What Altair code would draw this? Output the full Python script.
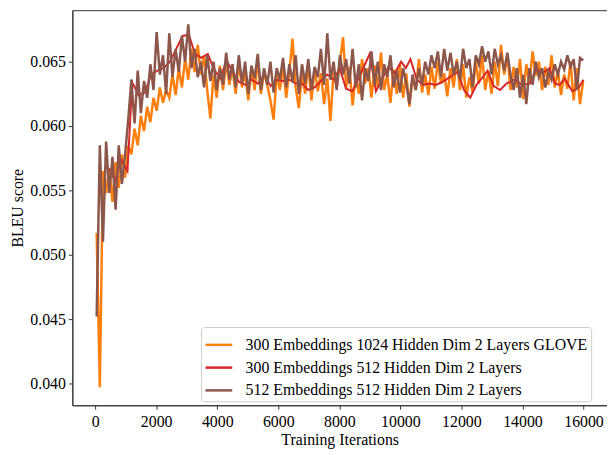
import altair as alt
import pandas as pd

SERIES = [
    "300 Embeddings 1024 Hidden Dim 2 Layers GLOVE",
    "300 Embeddings 512 Hidden Dim 2 Layers",
    "512 Embeddings 512 Hidden Dim 2 Layers",
]
COLORS = ["#ff7f0e", "#d62728", "#8c564b"]
WIDTHS = [2.5, 2.0, 2.5]

# dense evaluation grid for the orange and brown runs (50 .. ~16000)
glove_bleu = [
    .0517, .0397, .0565, .0548, .0567, .0541, .0572, .0552, .0578, .0560,
    .0585, .0578, .0598, .0585, .0608, .0596, .0615, .0603, .0622, .0612,
    .0630, .0618, .0628, .0622, .0640, .0624, .0645, .0630, .0652, .0636,
    .0660, .0642, .0663, .0640, .0655, .0628, .0606, .0640, .0622, .0647,
    .0628, .0650, .0632, .0645, .0625, .0650, .0630, .0642, .0620, .0645,
    .0628, .0651, .0625, .0642, .0632, .0620, .0605, .0640, .0628, .0646,
    .0622, .0642, .0668, .0630, .0614, .0641, .0625, .0648, .0620, .0645,
    .0627, .0641, .0617, .0637, .0604, .0642, .0630, .0650, .0669, .0630,
    .0646, .0616, .0639, .0625, .0652, .0633, .0645, .0622, .0647, .0630,
    .0657, .0628, .0640, .0618, .0644, .0625, .0648, .0622, .0641, .0615,
    .0638, .0628, .0652, .0626, .0640, .0624, .0646, .0629, .0650, .0633,
    .0641, .0623, .0645, .0630, .0652, .0628, .0648, .0622, .0638, .0626,
    .0650, .0633, .0655, .0628, .0643, .0625, .0650, .0631, .0663, .0640,
    .0655, .0628, .0646, .0630, .0652, .0621, .0648, .0633, .0658, .0639,
    .0650, .0628, .0646, .0632, .0655, .0630, .0643, .0624, .0640, .0629,
    .0650, .0620, .0645, .0617, .0635,
]
emb512_bleu = [
    .0452, .0585, .0510, .0588, .0548, .0576, .0535, .0585, .0555, .0578,
    .0605, .0636, .0602, .0643, .0610, .0635, .0622, .0648, .0628, .0673,
    .0640, .0655, .0625, .0672, .0638, .0660, .0642, .0670, .0650, .0679,
    .0645, .0660, .0638, .0650, .0630, .0655, .0635, .0650, .0628, .0645,
    .0632, .0657, .0636, .0648, .0630, .0655, .0633, .0650, .0625, .0647,
    .0637, .0656, .0628, .0645, .0632, .0650, .0626, .0645, .0636, .0653,
    .0630, .0648, .0634, .0655, .0625, .0648, .0633, .0652, .0628, .0646,
    .0638, .0660, .0632, .0672, .0636, .0650, .0628, .0655, .0640, .0652,
    .0633, .0660, .0630, .0648, .0620, .0645, .0635, .0658, .0632, .0650,
    .0628, .0648, .0638, .0655, .0630, .0643, .0626, .0645, .0633, .0617,
    .0640, .0628, .0645, .0632, .0650, .0640, .0655, .0645, .0658, .0638,
    .0660, .0643, .0657, .0640, .0650, .0636, .0660, .0645, .0652, .0630,
    .0655, .0648, .0662, .0650, .0658, .0640, .0660, .0648, .0655, .0643,
    .0657, .0640, .0628, .0645, .0622, .0640, .0617, .0645, .0632, .0650,
    .0638, .0645, .0630, .0642, .0636, .0648, .0640, .0650, .0644, .0655,
    .0646, .0652, .0628, .0653, .0651,
]
dense_iters = [round(50 + 103.5 * i) for i in range(len(glove_bleu))]

# sparser evaluation of the red run
red_iters = [
    340, 495, 650, 855, 1060, 1215, 1420, 1630, 1835, 2040,
    2245, 2450, 2660, 2865, 3070, 3275, 3480, 3690, 3895, 4100,
    4305, 4515, 4720, 4925, 5130, 5335, 5545, 5750, 5955, 6160,
    6365, 6575, 6780, 6985, 7190, 7395, 7605, 7810, 8015, 8220,
    8425, 8635, 8840, 8995, 9200, 9405, 9610, 9815, 10025, 10180,
    10330, 10540, 10745, 10950, 11155, 11360, 11620, 11875, 12085, 12290,
    12495, 12700, 12855, 13060, 13270, 13475, 13730, 13990, 14245, 14450,
    14710, 14885, 15070, 15225, 15380, 15635, 15845, 16000,
]
red_bleu = [
    .0569, .0566, .0557, .0574, .0565, .0634, .0624, .0626, .0640, .0643,
    .0645, .0650, .0660, .0670, .0671, .0656, .0653, .0656, .0644, .0637,
    .0651, .0642, .0634, .0632, .0636, .0633, .0640, .0631, .0636, .0635,
    .0636, .0633, .0633, .0628, .0630, .0635, .0640, .0636, .0645, .0629,
    .0627, .0637, .0648, .0656, .0627, .0637, .0646, .0641, .0650, .0645,
    .0652, .0636, .0632, .0633, .0632, .0634, .0638, .0642, .0628, .0622,
    .0632, .0638, .0643, .0631, .0628, .0633, .0636, .0632, .0633, .0644,
    .0642, .0645, .0633, .0632, .0637, .0627, .0630, .0636,
]

x_ticks = [0, 2000, 4000, 6000, 8000, 10000, 12000, 14000, 16000]
y_ticks = [0.040, 0.045, 0.050, 0.055, 0.060, 0.065]

rows = []
for it, v in zip(dense_iters, glove_bleu):
    rows.append({"series": SERIES[0], "iter": it, "bleu": v})
for it, v in zip(red_iters, red_bleu):
    rows.append({"series": SERIES[1], "iter": it, "bleu": v})
for it, v in zip(dense_iters, emb512_bleu):
    rows.append({"series": SERIES[2], "iter": it, "bleu": v})
df = pd.DataFrame(rows)

FONT = "Liberation Serif"

x_enc = alt.X(
    "iter:Q",
    scale=alt.Scale(domain=[-746, 16770], nice=False, zero=False),
    axis=alt.Axis(values=x_ticks, format="d", title="Training Iterations",
                  labelPadding=4, titlePadding=3),
)
y_enc = alt.Y(
    "bleu:Q",
    scale=alt.Scale(domain=[0.038308, 0.0690], nice=False, zero=False),
    axis=alt.Axis(values=y_ticks, format=".3f", title="BLEU score",
                  labelPadding=3, titlePadding=4),
)
color_enc = alt.Color(
    "series:N",
    scale=alt.Scale(domain=SERIES, range=COLORS),
    legend=alt.Legend(
        title=None, orient="none", legendX=130, legendY=320,
        symbolType="stroke", symbolSize=729, symbolStrokeWidth=2.5,
        labelFont=FONT, labelFontSize=16, labelLimit=600, labelOffset=12,
        fillColor="white", strokeColor="#cccccc", padding=3, cornerRadius=3,
        rowPadding=-7,
    ),
)

layers = []
for name, w in zip(SERIES, WIDTHS):
    layers.append(
        alt.Chart(df)
        .transform_filter(alt.datum.series == name)
        .mark_line(strokeWidth=w, clip=True)
        .encode(x=x_enc, y=y_enc, color=color_enc)
    )

chart = (
    alt.layer(*layers)
    .properties(
        width=540, height=399,
        autosize=alt.AutoSizeParams(type="none"),
        padding={"left": 65, "top": 0, "right": 0, "bottom": 45},
    )
    .configure_view(stroke="#333333", strokeWidth=1)
    .configure_axis(
        grid=False, domainColor="#333333", tickColor="#333333", tickSize=4,
        labelColor="black", titleColor="black",
        labelFont=FONT, labelFontSize=16, titleFont=FONT, titleFontSize=16,
        titleFontWeight="normal",
    )
)

chart.save("out.html", embed_options={"renderer": "svg", "actions": False})
